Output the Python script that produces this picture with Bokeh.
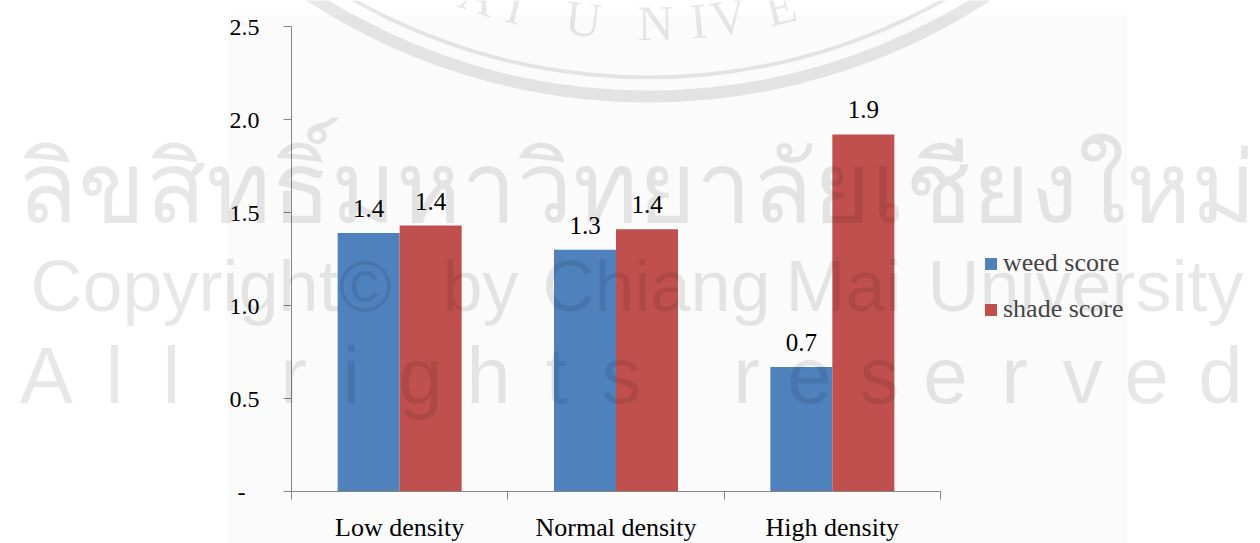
import math

from bokeh.core.properties import value
from bokeh.embed import file_html
from bokeh.models import (ColumnDataSource, FixedTicker, Label, LabelSet,
                          Legend, LegendItem, Range1d)
from bokeh.plotting import figure
from bokeh.resources import INLINE
from bokeh.transform import dodge

# ---- chart data -------------------------------------------------------
categories = ["Low density", "Normal density", "High density"]
weed_score = [1.39, 1.30, 0.67]
shade_score = [1.43, 1.41, 1.92]
y_ticks = [0, 0.5, 1.0, 1.5, 2.0, 2.5]
y_tick_labels = ["-\u2002\u200a", "0.5", "1.0", "1.5", "2.0", "2.5"]

# ---- watermark texts --------------------------------------------------
thai_mark = "ลิขสิทธิ์มหาวิทยาลัยเชียงใหม่"
copyright_words = ["Copyright©", "by", "Chiang", "Mai", "University"]
rights_letters = list("Allrights") + list("reserved")
seal_letters = ["A", "I", "U", "N", "I", "V", "E"]

# ---- page geometry ----------------------------------------------------
W, H = 1260, 543
ORIGIN_X, ORIGIN_Y = 291, 491          # where the axes cross, in page pixels
PX_PER_CAT = 649 / 3
PX_PER_UNIT = 186.0

SERIF = "Liberation Serif"
SANS = "Liberation Sans"
BLUE, RED = "#4F81BD", "#C0504D"
AXIS_GREY = "#868686"
MARK_ALPHA = 0.095
# distance (in em) between a Label's anchor and where its baseline lands
DROP_LATIN = 0.37
DROP_THAI = 0.32

# the frame fills the page; axes sit at fixed data locations inside it
p = figure(
    width=W, height=H,
    x_range=Range1d(-ORIGIN_X / PX_PER_CAT, (W - ORIGIN_X) / PX_PER_CAT),
    y_range=Range1d(-(H - ORIGIN_Y) / PX_PER_UNIT, ORIGIN_Y / PX_PER_UNIT),
    output_backend="svg", toolbar_location=None,
    min_border=0,
)
p.outline_line_color = None
p.background_fill_color = "white"
p.border_fill_color = "white"
p.grid.visible = False

# page-pixel ranges for the decorative layers
p.extra_x_ranges = {"px": Range1d(0, W)}
p.extra_y_ranges = {"py": Range1d(H, 0)}

# faint chart-area panel
p.quad(left=227, right=1127, top=15, bottom=H, fill_color="#FBFBFB",
       line_color=None, x_range_name="px", y_range_name="py")

# ---- bars ---------------------------------------------------------------
centers = [i + 0.5 for i in range(len(categories))]
src = ColumnDataSource(dict(
    x=centers,
    weed=weed_score,
    shade=shade_score,
    weed_lbl=[f"{v:.1f}" for v in weed_score],
    shade_lbl=[f"{v:.1f}" for v in shade_score],
))
BAR_W = 62 / PX_PER_CAT
r_weed = p.vbar(x=dodge("x", -BAR_W / 2), top="weed", width=BAR_W,
                source=src, fill_color=BLUE, line_color=None)
r_shade = p.vbar(x=dodge("x", BAR_W / 2), top="shade", width=BAR_W,
                 source=src, fill_color=RED, line_color=None)

for col, lbl, off in (("weed", "weed_lbl", -BAR_W / 2), ("shade", "shade_lbl", BAR_W / 2)):
    p.add_layout(LabelSet(
        x=dodge("x", off), y=col, text=lbl, source=src, y_offset=16,
        text_align="center", text_baseline="alphabetic",
        text_font=value(SERIF), text_font_size="25px", text_color="black",
    ))

# ---- axes ---------------------------------------------------------------
xa = p.xaxis[0]
xa.fixed_location = 0
xa.ticker = FixedTicker(ticks=centers, minor_ticks=list(range(len(categories) + 1)))
xa.major_label_overrides = {c: name for c, name in zip(centers, categories)}
xa.bounds = (0, len(categories))
xa.axis_line_color = AXIS_GREY
xa.major_tick_line_color = None
xa.major_tick_out = 0
xa.major_tick_in = 0
xa.minor_tick_line_color = AXIS_GREY
xa.minor_tick_out = 8
xa.minor_tick_in = 0
xa.major_label_standoff = 13
xa.major_label_text_font = SERIF
xa.major_label_text_font_size = "26px"
xa.major_label_text_color = "black"

ya = p.yaxis[0]
ya.fixed_location = 0
ya.ticker = FixedTicker(ticks=y_ticks, minor_ticks=[])
ya.major_label_overrides = {t: s for t, s in zip(y_ticks, y_tick_labels)}
ya.bounds = (y_ticks[0], y_ticks[-1])
ya.axis_line_color = AXIS_GREY
ya.major_tick_line_color = AXIS_GREY
ya.major_tick_out = 8
ya.major_tick_in = 0
ya.minor_tick_line_color = None
ya.major_label_standoff = 24
ya.major_label_text_font = SERIF
ya.major_label_text_font_size = "24px"
ya.major_label_text_color = "black"

# ---- legend -------------------------------------------------------------
legend = Legend(
    items=[LegendItem(label="weed score", renderers=[r_weed]),
           LegendItem(label="shade score", renderers=[r_shade])],
    location=(983, 219),
    glyph_width=15, glyph_height=15, label_standoff=5, spacing=16,
    padding=0, margin=0,
    label_text_font=SERIF, label_text_font_size="26px",
    border_line_color=None, background_fill_alpha=0,
)
p.add_layout(legend)

# ---- university seal ring -----------------------------------------------
SEAL_X, SEAL_Y = 648, -523
p.annulus(x=SEAL_X, y=SEAL_Y, inner_radius=613, outer_radius=625,
          fill_color="black", fill_alpha=MARK_ALPHA, line_color=None,
          x_range_name="px", y_range_name="py")
p.annulus(x=SEAL_X, y=SEAL_Y, inner_radius=598, outer_radius=602,
          fill_color="black", fill_alpha=MARK_ALPHA, line_color=None,
          x_range_name="px", y_range_name="py")

seal_x = [478, 515, 583, 655, 698, 728, 780]
SEAL_FS = 50
SEAL_R = 564 - DROP_LATIN * SEAL_FS     # baseline circle radius is 564
for ch, sx in zip(seal_letters, seal_x):
    phi = math.asin((sx - SEAL_X) / SEAL_R)
    p.add_layout(Label(
        x=SEAL_X + SEAL_R * math.sin(phi), y=SEAL_Y + SEAL_R * math.cos(phi),
        x_range_name="px", y_range_name="py", angle=phi,
        text=ch, text_align="center", text_baseline="alphabetic",
        text_font=SERIF, text_font_size=f"{SEAL_FS}px",
        text_color="black", text_alpha=MARK_ALPHA,
    ))

# ---- copyright watermark ------------------------------------------------
THAI_FS = 99
p.add_layout(Label(
    x=16, y=215 - DROP_THAI * THAI_FS, x_range_name="px", y_range_name="py",
    text=thai_mark, text_align="left", text_baseline="alphabetic",
    text_font="Noto Sans", text_font_size=f"{THAI_FS}px",
    text_color="black", text_alpha=MARK_ALPHA,
))

COPY_FS = 72
word_left = [30, 442, 542, 785, 927]
for word, wx in zip(copyright_words, word_left):
    p.add_layout(Label(
        x=wx, y=312 - DROP_LATIN * COPY_FS, x_range_name="px", y_range_name="py",
        text=word, text_align="left", text_baseline="alphabetic",
        text_font=SANS, text_font_size=f"{COPY_FS}px",
        text_color="black", text_alpha=MARK_ALPHA,
    ))

RIGHTS_FS = 80
letter_cx = [46, 114, 171, 293, 351, 420, 488, 556, 621,
             746, 809, 879, 945, 1014, 1082, 1146, 1220]
for ch, lx in zip(rights_letters, letter_cx):
    p.add_layout(Label(
        x=lx, y=405 - DROP_LATIN * RIGHTS_FS, x_range_name="px", y_range_name="py",
        text=ch, text_align="center", text_baseline="alphabetic",
        text_font=SANS, text_font_size=f"{RIGHTS_FS}px",
        text_color="black", text_alpha=MARK_ALPHA,
    ))

open("out.html", "w").write(file_html(p, INLINE))
